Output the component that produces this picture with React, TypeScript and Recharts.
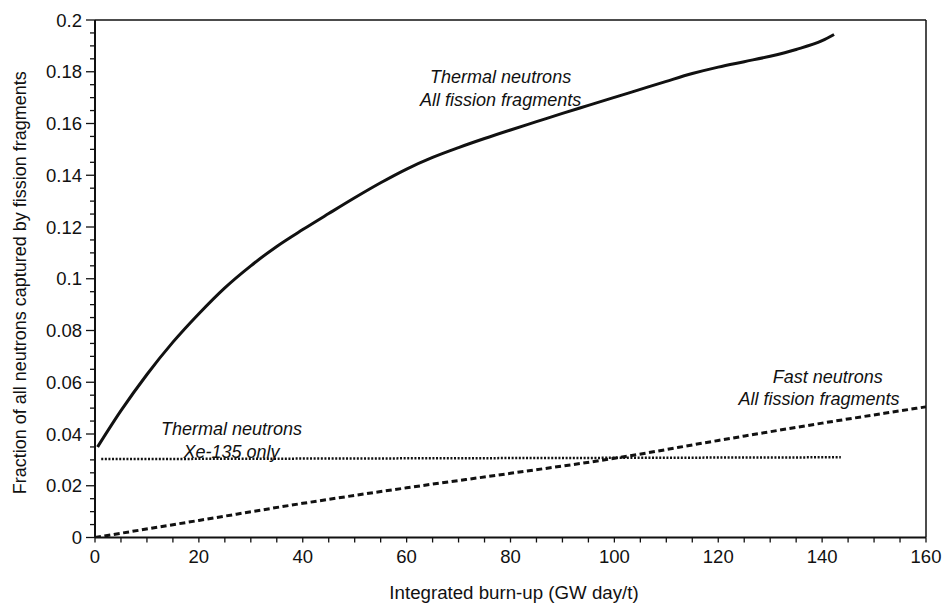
import { LineChart, Line, XAxis, YAxis, ReferenceLine, ReferenceDot } from 'recharts';

// thermal neutrons, all fission fragments (solid)
const thermalAllX = [0.5, 5, 10, 15, 20, 25, 30, 35, 40, 45, 50, 55, 60, 65, 70, 75, 80, 85, 90, 95, 100, 105, 110, 115, 120, 125, 130, 135, 140, 142.3];
const thermalAllY = [
  0.035, 0.049, 0.063, 0.0755, 0.0865, 0.0965, 0.105, 0.1125, 0.119, 0.1252,
  0.1313, 0.1371, 0.1424, 0.1469, 0.1507, 0.1542, 0.1575, 0.1607, 0.1639, 0.167,
  0.1701, 0.1732, 0.1763, 0.1793, 0.1818, 0.1839, 0.186, 0.1886, 0.192, 0.1944,
];

// thermal neutrons, Xe-135 only (dotted)
const xenonX = [1.2, 143.6];
const xenonY = [0.0303, 0.031];

// fast neutrons, all fission fragments (dashed)
const fastX = [0, 20, 40, 60, 80, 100, 120, 140, 160];
const fastY = [0, 0.0066, 0.0132, 0.0192, 0.0248, 0.0306, 0.0375, 0.0442, 0.0505];

const xMajor = [0, 20, 40, 60, 80, 100, 120, 140, 160];
const yMajor = [0, 0.02, 0.04, 0.06, 0.08, 0.1, 0.12, 0.14, 0.16, 0.18, 0.2];

const xTitle = 'Integrated burn-up (GW day/t)';
const yTitle = 'Fraction of all neutrons captured by fission fragments';

const notes = [
  { x: 78.1, y: 0.1755, text: 'Thermal neutrons' },
  { x: 78.1, y: 0.1666, text: 'All fission fragments' },
  { x: 26.3, y: 0.0396, text: 'Thermal neutrons' },
  { x: 26.3, y: 0.0307, text: 'Xe-135 only' },
  { x: 141.1, y: 0.0597, text: 'Fast neutrons' },
  { x: 139.4, y: 0.0512, text: 'All fission fragments' },
];

const toPoints = (xs: number[], ys: number[]) => xs.map((x, i) => ({ x, y: ys[i] }));
const thermalAll = toPoints(thermalAllX, thermalAllY);
const xenon = toPoints(xenonX, xenonY);
const fast = toPoints(fastX, fastY);

const xTicks = Array.from({ length: 33 }, (_, i) => i * 5);
const yTicks = Array.from({ length: 41 }, (_, i) => Math.round(i * 5) / 1000);

const FONT = '"Liberation Sans", Arial, sans-serif';
const INK = '#111';

const isMajor = (list: number[], v: number) => list.some((m) => Math.abs(m - v) < 1e-9);

const YTick = (props: any) => {
  const { x, y, payload } = props;
  const major = isMajor(yMajor, payload.value);
  return (
    <g>
      <line x1={x - (major ? 9 : 5)} x2={x} y1={y} y2={y} stroke={INK} strokeWidth={1.3} />
      {major && (
        <text x={x - 13} y={y} dy="0.36em" textAnchor="end" fontSize={18.5} fontFamily={FONT} fill={INK}>
          {Number(payload.value.toFixed(3)).toString()}
        </text>
      )}
    </g>
  );
};

const XTick = (props: any) => {
  const { x, y, payload } = props;
  const major = isMajor(xMajor, payload.value);
  return (
    <g>
      <line x1={x} x2={x} y1={y} y2={y + 5} stroke={INK} strokeWidth={1.3} />
      {major && (
        <text x={x} y={y + 25} textAnchor="middle" fontSize={18.5} fontFamily={FONT} fill={INK}>
          {payload.value}
        </text>
      )}
    </g>
  );
};

const XTitle = (props: any) => {
  const { viewBox } = props;
  const cx = viewBox.x + viewBox.width / 2 + 3.5;
  const by = viewBox.y + viewBox.height - 4;
  return (
    <text x={cx} y={by} textAnchor="middle" fontSize={18.7} fontFamily={FONT} fill={INK}>
      {xTitle}
    </text>
  );
};

const YTitle = (props: any) => {
  const { viewBox } = props;
  const cx = viewBox.x + 20;
  const cy = viewBox.y + viewBox.height / 2 + 4;
  return (
    <text
      x={cx}
      y={cy}
      dy="0.36em"
      transform={`rotate(-90, ${cx}, ${cy})`}
      textAnchor="middle"
      fontSize={18}
      fontFamily={FONT}
      fill={INK}
    >
      {yTitle}
    </text>
  );
};

const NoteText = (text: string) => (props: any) => (
  <text x={props.cx} y={props.cy} textAnchor="middle" fontSize={18} fontStyle="italic" fontFamily={FONT} fill={INK}>
    {text}
  </text>
);

export default function App() {
  return (
    <div style={{ position: 'absolute', left: 0, top: 0, background: '#fff' }}>
      <LineChart width={942} height={603} margin={{ top: 20, right: 16, left: 0, bottom: 0 }}>
        <XAxis
          type="number"
          dataKey="x"
          domain={[0, 160]}
          ticks={xTicks}
          interval={0}
          allowDataOverflow
          tickSize={0}
          tickMargin={0}
          tick={<XTick />}
          axisLine={{ stroke: INK, strokeWidth: 2 }}
          height={65.5}
          label={{ content: <XTitle /> }}
        />
        <YAxis
          type="number"
          dataKey="y"
          domain={[0, 0.2]}
          ticks={yTicks}
          interval={0}
          allowDataOverflow
          tickSize={0}
          tickMargin={0}
          tick={<YTick />}
          axisLine={{ stroke: INK, strokeWidth: 2 }}
          width={95}
          label={{ content: <YTitle /> }}
        />
        <ReferenceLine y={0.2} stroke={INK} strokeWidth={1.5} ifOverflow="visible" />
        <ReferenceLine x={160} stroke={INK} strokeWidth={1.5} ifOverflow="visible" />
        <Line
          data={thermalAll}
          dataKey="y"
          type="monotone"
          stroke={INK}
          strokeWidth={3}
          dot={false}
          isAnimationActive={false}
        />
        <Line
          data={xenon}
          dataKey="y"
          type="linear"
          stroke={INK}
          strokeWidth={2.5}
          strokeDasharray="2 1.6"
          dot={false}
          isAnimationActive={false}
        />
        <Line
          data={fast}
          dataKey="y"
          type="monotone"
          stroke={INK}
          strokeWidth={3}
          strokeDasharray="6 3.5"
          dot={false}
          isAnimationActive={false}
        />
        {notes.map((n, i) => (
          <ReferenceDot key={i} x={n.x} y={n.y} r={1} ifOverflow="visible" shape={NoteText(n.text)} />
        ))}
      </LineChart>
    </div>
  );
}
